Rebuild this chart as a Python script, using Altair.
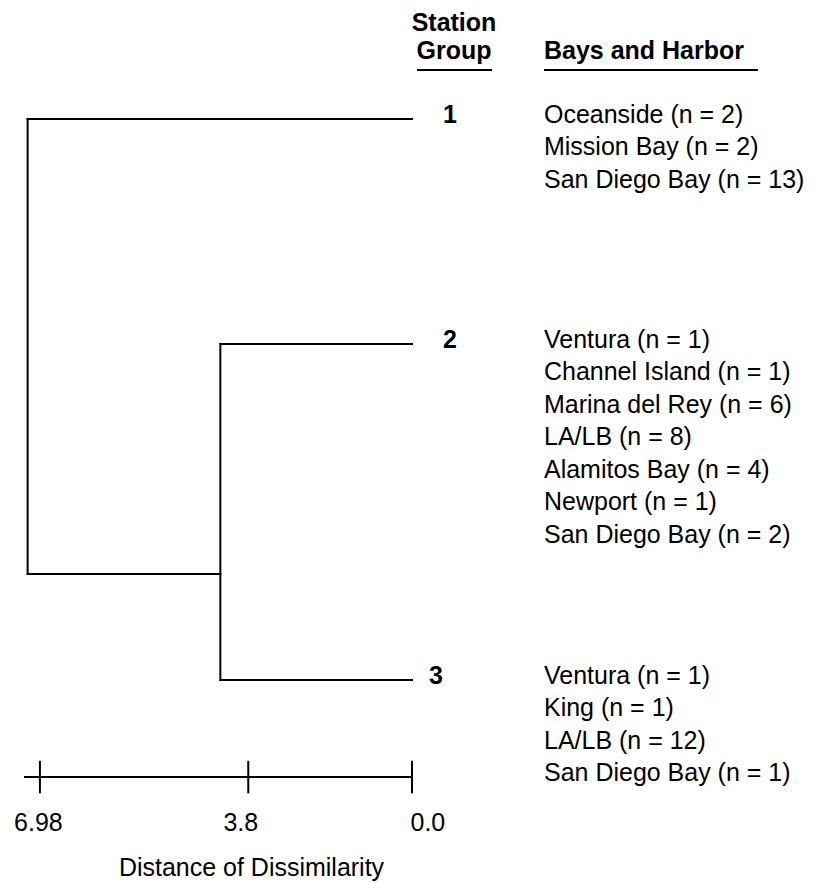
import altair as alt
import pandas as pd

# ---- data ----
groups = ["1", "2", "3"]
leaf_rows = [0.0, 6.92, 17.26]        # vertical position of each group's branch (label rows)
merge_root = 7.15                     # distance where group 1 joins groups 2+3
merge_23 = 4.27                       # distance where groups 2 and 3 join
root_join_row = 14.0                  # row where the root branch meets the 2-3 node
bays = [
    ["Oceanside (n = 2)", "Mission Bay (n = 2)", "San Diego Bay (n = 13)"],
    ["Ventura (n = 1)", "Channel Island (n = 1)", "Marina del Rey (n = 6)",
     "LA/LB (n = 8)", "Alamitos Bay (n = 4)", "Newport (n = 1)", "San Diego Bay (n = 2)"],
    ["Ventura (n = 1)", "King (n = 1)", "LA/LB (n = 12)", "San Diego Bay (n = 1)"],
]
scale_ticks = [6.98, 3.8, 0.0]
scale_max = 7.2
axis_title = "Distance of Dissimilarity"
header_station = "Station"
header_group = "Group"
header_bays = "Bays and Harbor"

# ---- layout constants (rows) ----
ROW_PX = 32.5
TOP_ROW = -3.415
STATION_ROW = -2.954
GROUP_ROW = -2.092
UNDERLINE_ROW = -1.508
BAR_ROW = 20.25
TICK_HALF = 0.5
FONT = "Liberation Sans"
FS = 25

seg = pd.DataFrame({
    "x": [merge_root, merge_23, merge_23, merge_root, merge_root, merge_23],
    "x2": [0.0, 0.0, 0.0, merge_root, merge_23, merge_23],
    "y": [leaf_rows[0], leaf_rows[1], leaf_rows[2], leaf_rows[0], root_join_row, leaf_rows[1]],
    "y2": [leaf_rows[0], leaf_rows[1], leaf_rows[2], root_join_row, root_join_row, leaf_rows[2]],
})

grp = pd.DataFrame({"g": groups, "row": leaf_rows, "dist": [0.0] * 3})

rows = []
for r0, names in zip(leaf_rows, bays):
    for i, n in enumerate(names):
        rows.append({"name": n, "row": r0 + i, "dist": 0.0})
lab = pd.DataFrame(rows)

bar = pd.DataFrame({"x": [scale_max], "x2": [0.0], "y": [BAR_ROW]})
ticks = pd.DataFrame({"x": scale_ticks, "y": [BAR_ROW - TICK_HALF] * 3, "y2": [BAR_ROW + TICK_HALF] * 3})

hdr_c = pd.DataFrame({"t": [header_station, header_group], "row": [STATION_ROW, GROUP_ROW], "dist": [0.0, 0.0]})
hdr_l = pd.DataFrame({"t": [header_bays], "row": [GROUP_ROW], "dist": [0.0]})
ul = pd.DataFrame({"dist": [0.0], "row": [UNDERLINE_ROW]})

xscale = alt.Scale(type="pow", exponent=1.35, domain=[0, scale_max], reverse=True, nice=False, zero=False)
yscale = alt.Scale(domain=[TOP_ROW, BAR_ROW], reverse=True, nice=False, zero=False)

xaxis = alt.Axis(
    values=scale_ticks,
    labelExpr="datum.value === 0 ? '0.0' : format(datum.value, '~g')",
    domain=False, ticks=False, tickSize=0, grid=False,
    labelFontSize=FS, labelFont=FONT, labelColor="black", labelPadding=33,
    labelFlush=False, labelOverlap=False,
    labelAlign={"condition": {"test": "datum.value === 0", "value": "left"}, "value": "center"},
    labelOffset={"condition": {"test": "datum.value > 3 && datum.value < 5", "value": -8}, "value": -2},
    title=axis_title, titleFontSize=FS, titleFont=FONT, titleFontWeight="normal",
    titleColor="black", titleX=227, titleY=90, titleAlign="center", titleBaseline="middle",
)

W = 388
H = (BAR_ROW - TOP_ROW) * ROW_PX

lines = alt.Chart(seg).mark_rule(color="black", strokeWidth=2, strokeCap="square").encode(
    x=alt.X("x:Q", scale=xscale, axis=xaxis),
    x2="x2:Q",
    y=alt.Y("y:Q", scale=yscale, axis=None),
    y2="y2:Q",
)

bar_l = alt.Chart(bar).mark_rule(color="black", strokeWidth=2).encode(
    x="x:Q", x2="x2:Q", y="y:Q"
)
tick_l = alt.Chart(ticks).mark_rule(color="black", strokeWidth=2).encode(
    x="x:Q", y="y:Q", y2="y2:Q"
)

num_style = dict(font=FONT, fontSize=FS, fontWeight="bold", align="center",
                 baseline="middle", dy=-4, color="black")
num_a = alt.Chart(grp).transform_filter("datum.g != '3'").mark_text(dx=38, **num_style).encode(
    x="dist:Q", y="row:Q", text="g:N"
)
num_b = alt.Chart(grp).transform_filter("datum.g == '3'").mark_text(dx=24, **num_style).encode(
    x="dist:Q", y="row:Q", text="g:N"
)
lab_l = alt.Chart(lab).mark_text(font=FONT, fontSize=FS, align="left", baseline="middle",
                                  dx=132, dy=-4, color="black").encode(
    x="dist:Q", y="row:Q", text="name:N"
)
hc_l = alt.Chart(hdr_c).mark_text(font=FONT, fontSize=FS, fontWeight="bold", align="center",
                                   baseline="middle", dx=42, color="black").encode(
    x="dist:Q", y="row:Q", text="t:N"
)
hl_l = alt.Chart(hdr_l).mark_text(font=FONT, fontSize=FS, fontWeight="bold", align="left",
                                   baseline="middle", dx=132, color="black").encode(
    x="dist:Q", y="row:Q", text="t:N"
)
ul1 = alt.Chart(ul).mark_rule(color="black", strokeWidth=2, xOffset=5, x2Offset=80).encode(
    x="dist:Q", x2="dist:Q", y="row:Q"
)
ul2 = alt.Chart(ul).mark_rule(color="black", strokeWidth=2, xOffset=132, x2Offset=346).encode(
    x="dist:Q", x2="dist:Q", y="row:Q"
)

chart = alt.layer(lines, bar_l, tick_l, num_a, num_b, lab_l, hc_l, hl_l, ul1, ul2).properties(
    width=W, height=H,
    padding={"left": 5, "top": 0, "right": 5, "bottom": 5},
    background="white",
).configure_view(stroke=None)

chart.save("out.html", embed_options={"renderer": "svg", "actions": False})
